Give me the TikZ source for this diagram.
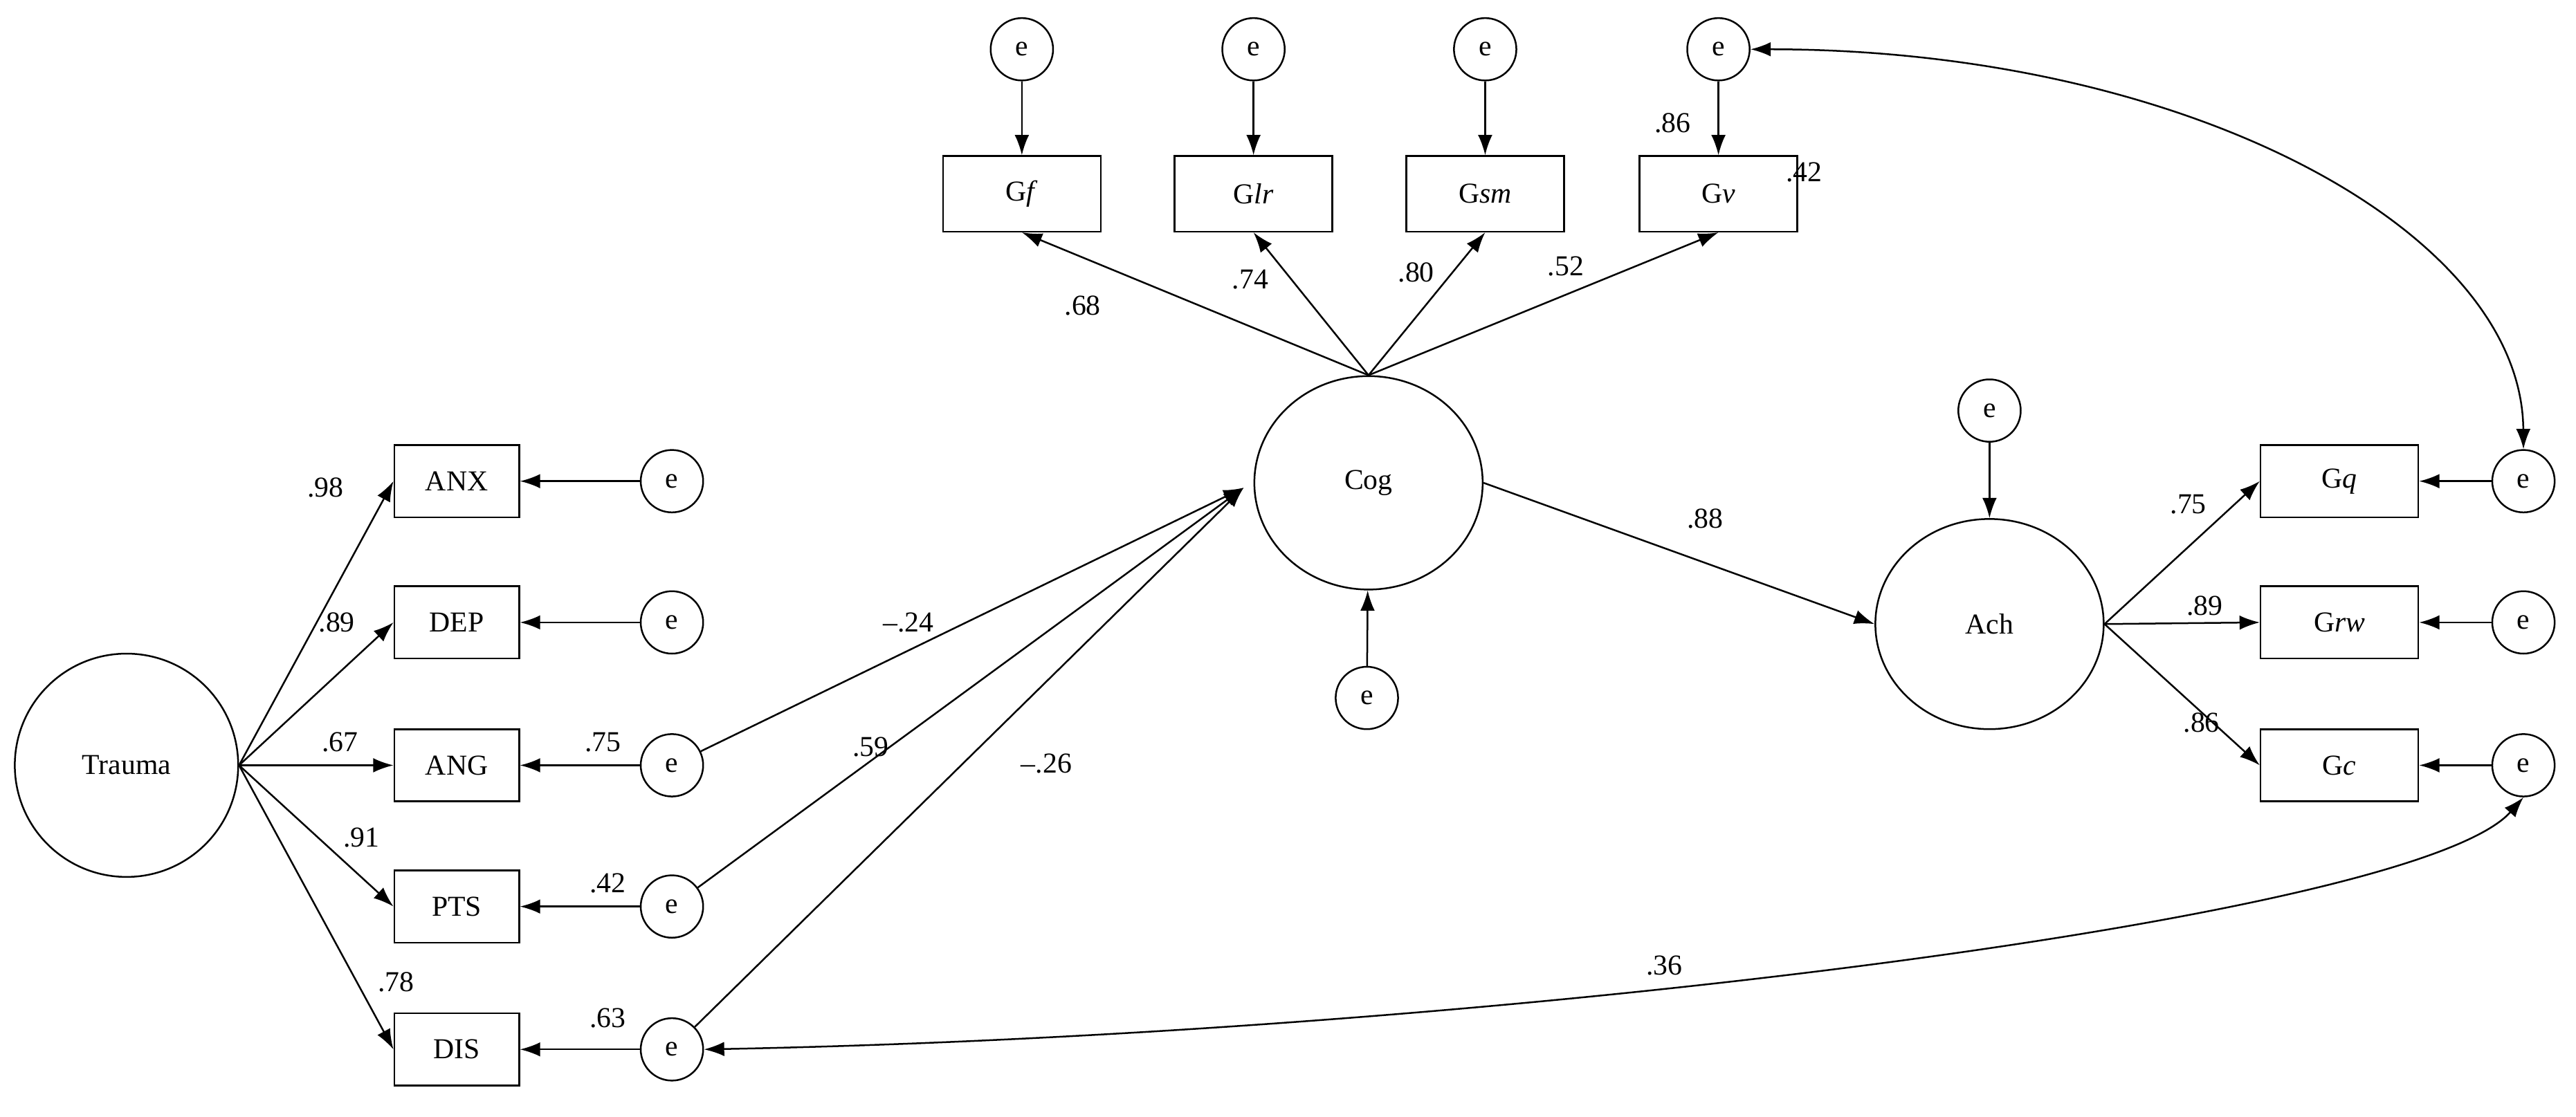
\documentclass[tikz,border=0pt]{standalone}
\usepackage{fontspec}
\setmainfont{Liberation Serif}
\usetikzlibrary{shapes.geometric,arrows.meta}
\begin{document}
\begin{tikzpicture}[x=0.02cm,y=-0.02cm,font=\fontsize{10}{12}\selectfont,
  box/.style={draw,line width=0.6pt,minimum width=1.52cm,minimum height=0.88cm,inner sep=0},
  tbox/.style={draw,line width=0.6pt,minimum width=1.92cm,minimum height=0.92cm,inner sep=0},
  err/.style={draw,circle,line width=0.6pt,minimum size=0.76cm,inner sep=0},
  lat/.style={draw,ellipse,line width=0.6pt,minimum width=2.78cm,minimum height=2.6cm,inner sep=0},
  arr/.style={-{Latex[length=7pt,width=5pt]},line width=0.6pt},
  darr/.style={{Latex[length=7pt,width=5pt]}-{Latex[length=7pt,width=5pt]},line width=0.6pt}]
\useasboundingbox (0,0) rectangle (1568,680);
\node[lat,minimum width=2.72cm,minimum height=2.72cm] (tr) at (77,466) {Trauma};
\node[lat] (cog) at (833,294) {Cog};
\node[lat,minimum height=2.56cm] (ach) at (1211,380) {Ach};
\foreach \n/\y in {ANX/293,DEP/379,ANG/466,PTS/552,DIS/639}{
  \node[box] (\n) at (278,\y) {\n};
  \node[err] (e\n) at (409,\y) {e};
  \draw[arr] (e\n) -- (\n);
  \draw[arr] (tr.east) -- (\n.west);
}
\foreach \n/\t/\x in {Gf/G\textit{f}/622,Glr/G\textit{lr}/763,Gsm/G\textit{sm}/904,Gv/G\textit{v}/1046}{
  \node[tbox] (\n) at (\x,118) {\t};
  \node[err] (e\n) at (\x,30) {e};
  \draw[arr] (e\n) -- (\n);
  \draw[arr] (cog.north) -- (\n.south);
}
\foreach \n/\t/\y in {Gq/G\textit{q}/293,Grw/G\textit{rw}/379,Gc/G\textit{c}/466}{
  \node[tbox,minimum height=0.88cm] (\n) at (1424,\y) {\t};
  \node[err] (e\n) at (1536,\y) {e};
  \draw[arr] (e\n) -- (\n);
  \draw[arr] (ach.east) -- (\n.west);
}
\node[err] (ecog) at (832,425) {e};
\node[err] (each) at (1211,250) {e};
\coordinate (cogin) at (757,297);
\draw[arr] (ecog) -- (cog);
\draw[arr] (each) -- (ach);
\draw[arr] (cog.east) -- (ach.west);
\foreach \n in {ANG,PTS,DIS} \draw[arr] (e\n) -- (cogin);
\draw[darr] (eGv.east) .. controls (1330,30) and (1535,140) .. (eGq.north);
\draw[darr] (eDIS.east) .. controls (900,630) and (1470,560) .. (eGc.south);
\foreach \t/\x/\y in {.98/198/297,.89/205/379,.67/207/452,.91/220/510,.78/241/598,
  .75/367/452,.42/370/538,.63/370/620,{--.24}/553/379,.59/530/455,{--.26}/637/465,
  .68/659/186,.74/761/170,.80/862/166,.52/953/162,.86/1018/75,.42/1098/105,.88/1038/316,
  .75/1332/307,.89/1342/369,.86/1340/440,.36/1013/588}
  \node at (\x,\y) {\t};
\end{tikzpicture}
\end{document}
